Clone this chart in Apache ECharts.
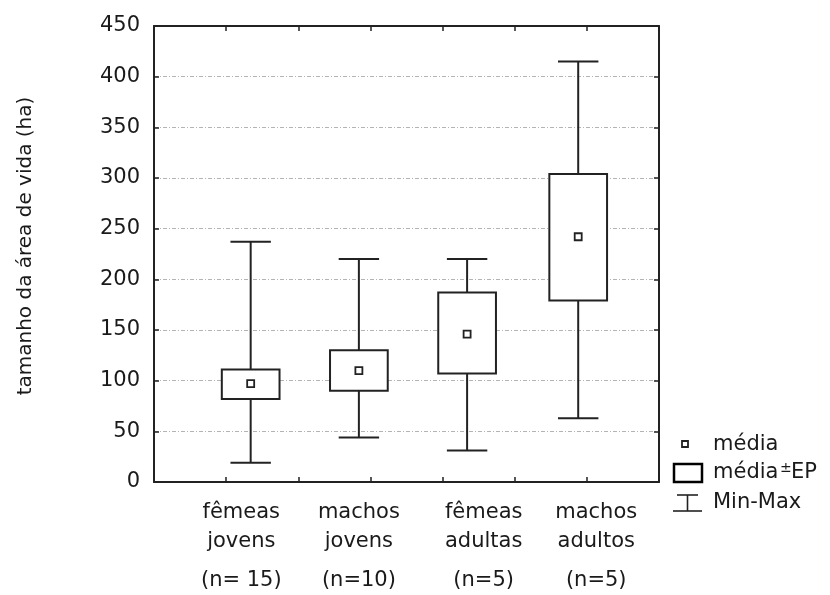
<!DOCTYPE html>
<html>
<head>
<meta charset="utf-8">
<script src="https://cdn.jsdelivr.net/npm/echarts@6/dist/echarts.min.js"></script>
<style>
  body { margin: 0; background: #fff; }
  #box { width: 830px; height: 595px; }
</style>
</head>
<body>
<div id="box"></div>
<script>
// dados
var groupLine1 = ['fêmeas', 'machos', 'fêmeas', 'machos'];
var groupLine2 = ['jovens', 'jovens', 'adultas', 'adultos'];
var nLabels = ['(n= 15)', '(n=10)', '(n=5)', '(n=5)'];
var xPos = [1.34, 2.84, 4.34, 5.88];      // posição das caixas no eixo x (0-7)
var labelPos = [1.21, 2.84, 4.57, 6.13];  // posição dos rótulos
var minV = [19, 44, 31, 63];
var loV = [82, 90, 107, 179];
var meanV = [97, 110, 146, 242];
var hiV = [111, 130, 187, 304];
var maxV = [237, 220, 220, 415];

var FONT = 'DejaVu Sans';
var LINE = '#222';
var TXT = '#1a1a1a';

var data = [];
for (var i = 0; i < xPos.length; i++) {
  data.push([xPos[i], minV[i], loV[i], meanV[i], hiV[i], maxV[i]]);
}

function renderBox(params, api) {
  var x = api.value(0);
  var pMin = api.coord([x, api.value(1)]);
  var pLo = api.coord([x, api.value(2)]);
  var pMean = api.coord([x, api.value(3)]);
  var pHi = api.coord([x, api.value(4)]);
  var pMax = api.coord([x, api.value(5)]);
  var bw = api.size([0.8, 0])[0];
  var cw = api.size([0.56, 0])[0];
  var st = { stroke: LINE, lineWidth: 2, fill: null };
  return {
    type: 'group',
    children: [
      { type: 'line', shape: { x1: pMax[0], y1: pMax[1], x2: pHi[0], y2: pHi[1] }, style: st },
      { type: 'line', shape: { x1: pLo[0], y1: pLo[1], x2: pMin[0], y2: pMin[1] }, style: st },
      { type: 'line', shape: { x1: pMax[0] - cw / 2, y1: pMax[1], x2: pMax[0] + cw / 2, y2: pMax[1] }, style: st },
      { type: 'line', shape: { x1: pMin[0] - cw / 2, y1: pMin[1], x2: pMin[0] + cw / 2, y2: pMin[1] }, style: st },
      { type: 'rect', shape: { x: pHi[0] - bw / 2, y: pHi[1], width: bw, height: pLo[1] - pHi[1] },
        style: { stroke: LINE, lineWidth: 2, fill: '#fff' } },
      { type: 'rect', shape: { x: pMean[0] - 3.5, y: pMean[1] - 3.5, width: 7, height: 7 },
        style: { stroke: LINE, lineWidth: 1.8, fill: '#fff' } }
    ]
  };
}

function frameAxis(pos, isY) {
  var a = {
    type: 'value', position: pos,
    axisLine: { show: true, onZero: false, lineStyle: { color: LINE, width: 2 } },
    axisTick: { show: true, inside: true, length: 5, lineStyle: { color: LINE, width: 1.5 } },
    axisLabel: { show: false, inside: true },
    splitLine: { show: false }
  };
  if (isY) { a.min = 0; a.max = 450; a.interval = 50; }
  else { a.min = 0; a.max = 7; a.interval = 1; }
  return a;
}

var yMain = frameAxis('left', true);
yMain.name = 'tamanho da área de vida (ha)';
yMain.nameLocation = 'middle';
yMain.nameRotate = 90;
yMain.nameGap = 118;
yMain.nameTextStyle = { fontFamily: FONT, fontSize: 20, color: TXT, padding: [0, 0, 0, 16] };
yMain.axisLabel = { show: true, inside: false, fontFamily: FONT, fontSize: 21, color: TXT, margin: 14 };
yMain.splitLine = { show: true, lineStyle: { color: '#b4b4b4', width: 1, type: [4, 2, 1, 2] } };

var myChart = echarts.init(document.getElementById('box'));
var option = {
  animation: false,
  grid: { left: 154, right: 171, top: 26, bottom: 113 },
  xAxis: [frameAxis('bottom', false), frameAxis('top', false)],
  yAxis: [yMain, frameAxis('right', true)],
  series: [
    {
      type: 'custom',
      renderItem: renderBox,
      encode: { x: 0, y: [1, 2, 3, 4, 5] },
      data: data,
      z: 5
    }
  ]
};
myChart.setOption(option);

// rótulos dos grupos e legenda
var graphics = [];
for (var j = 0; j < labelPos.length; j++) {
  var px = myChart.convertToPixel({ xAxisIndex: 0 }, labelPos[j]);
  var lines = [[groupLine1[j], 513], [groupLine2[j], 542], [nLabels[j], 581]];
  lines.forEach(function (l) {
    graphics.push({
      type: 'text', x: px, y: l[1],
      style: { text: l[0], fontFamily: FONT, fontSize: 21, fill: TXT, align: 'center', verticalAlign: 'middle' }
    });
  });
}
var lg = { fontFamily: FONT, fontSize: 21, fill: TXT, verticalAlign: 'middle' };
graphics.push(
  { type: 'rect', shape: { x: 682, y: 441, width: 6, height: 6 }, style: { stroke: LINE, lineWidth: 1.8, fill: '#fff' } },
  { type: 'text', x: 713, y: 445, style: Object.assign({ text: 'média' }, lg) },
  { type: 'rect', shape: { x: 674, y: 464, width: 28, height: 18 }, style: { stroke: '#000', lineWidth: 2.5, fill: '#fff' } },
  { type: 'text', x: 713, y: 473, style: Object.assign({ text: 'média' }, lg) },
  { type: 'text', x: 780, y: 468, style: { text: '±', fontFamily: FONT, fontSize: 14, fill: TXT, verticalAlign: 'middle' } },
  { type: 'text', x: 791, y: 473, style: Object.assign({ text: 'EP' }, lg) },
  { type: 'line', shape: { x1: 677, y1: 495, x2: 698, y2: 495 }, style: { stroke: LINE, lineWidth: 1.6 } },
  { type: 'line', shape: { x1: 687.5, y1: 495, x2: 687.5, y2: 511 }, style: { stroke: LINE, lineWidth: 1.6 } },
  { type: 'line', shape: { x1: 673, y1: 511, x2: 702, y2: 511 }, style: { stroke: LINE, lineWidth: 1.6 } },
  { type: 'text', x: 713, y: 503, style: Object.assign({ text: 'Min-Max' }, lg) }
);
myChart.setOption({ graphic: graphics });
</script>
</body>
</html>
